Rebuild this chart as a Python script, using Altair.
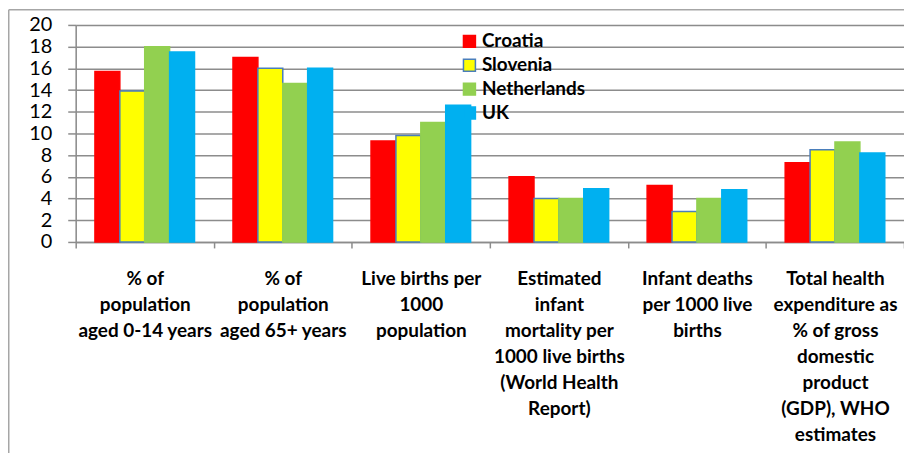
import altair as alt
import pandas as pd

categories = [
    "% of\npopulation\naged 0-14 years",
    "% of\npopulation\naged 65+ years",
    "Live births per\n1000\npopulation",
    "Estimated\ninfant\nmortality per\n1000 live births\n(World Health\nReport)",
    "Infant deaths\nper 1000 live\nbirths",
    "Total health\nexpenditure as\n% of gross\ndomestic\nproduct\n(GDP), WHO\nestimates",
]
countries = ["Croatia", "Slovenia", "Netherlands", "UK"]
croatia = [15.7, 17.0, 9.3, 6.0, 5.2, 7.3]
slovenia = [13.9, 16.0, 9.8, 4.0, 2.8, 8.5]
netherlands = [18.0, 14.6, 11.0, 4.0, 4.0, 9.2]
uk = [17.5, 16.0, 12.6, 4.9, 4.8, 8.2]

fill_colors = ["#ff0000", "#ffff00", "#92d050", "#00b0f0"]
stroke_colors = ["#ff0000", "#4a7ebb", "#92d050", "#00b0f0"]

rows = []
for country, vals in zip(countries, [croatia, slovenia, netherlands, uk]):
    for cat, v in zip(categories, vals):
        rows.append({"Category": cat, "Country": country, "Value": v})
df = pd.DataFrame(rows)

FONT = "Lato"
GRID = "#8c8c8c"
W, H = 832, 218

legend_opts = dict(
    title=None,
    orient="none",
    legendX=386,
    legendY=7,
    symbolType="square",
    symbolSize=144,
    symbolStrokeWidth=1.5,
    symbolOpacity=1,
    labelFont=FONT,
    labelFontSize=19,
    labelFontWeight="bold",
    labelColor="#000000",
    labelOffset=3,
    rowPadding=4,
    padding=0,
)

bars = alt.Chart(df).mark_bar(strokeWidth=1.5).encode(
    x=alt.X(
        "Category:N",
        sort=categories,
        title=None,
        scale=alt.Scale(paddingInner=0, paddingOuter=0),
        axis=alt.Axis(
            labelAngle=0,
            labelExpr="split(datum.label, '\\n')",
            labelFont=FONT,
            labelFontSize=19,
            labelFontWeight="bold",
            labelColor="#000000",
            labelLineHeight=26,
            labelPadding=22,
            labelBaseline="top",
            labelOverlap=False,
            labelBound=False,
            labelLimit=300,
            tickBand="extent",
            tickSize=6,
            tickColor=GRID,
            tickWidth=1.5,
            domainColor=GRID,
            domainWidth=1.5,
            grid=False,
        ),
    ),
    xOffset=alt.XOffset(
        "Country:N",
        sort=countries,
        scale=alt.Scale(paddingInner=0, paddingOuter=0.773),
    ),
    y=alt.Y(
        "Value:Q",
        title=None,
        scale=alt.Scale(domain=[0, 20], nice=False),
        axis=alt.Axis(
            values=list(range(0, 21, 2)),
            labelFont=FONT,
            labelFontSize=20,
            labelColor="#000000",
            labelPadding=16,
            tickSize=8,
            tickColor=GRID,
            tickWidth=1.5,
            domainColor=GRID,
            domainWidth=1.5,
            gridColor=GRID,
            gridWidth=1.5,
            gridOpacity=1,
        ),
    ),
    fill=alt.Fill(
        "Country:N",
        sort=countries,
        scale=alt.Scale(domain=countries, range=fill_colors),
        legend=alt.Legend(**legend_opts),
    ),
    stroke=alt.Stroke(
        "Country:N",
        sort=countries,
        scale=alt.Scale(domain=countries, range=stroke_colors),
        legend=alt.Legend(**legend_opts),
    ),
)

frame_df = pd.DataFrame({"k": [0]})
frame_left = alt.Chart(frame_df).mark_rule(color="#a6a6a6", strokeWidth=1.5).encode(
    x=alt.value(-67.25), y=alt.value(-15.25), y2=alt.value(430)
)
frame_top = alt.Chart(frame_df).mark_rule(color="#a6a6a6", strokeWidth=1.5).encode(
    x=alt.value(-67.25), x2=alt.value(W + 10), y=alt.value(-15.25)
)

chart = alt.layer(bars, frame_left, frame_top).properties(
    width=W,
    height=H,
    autosize=alt.AutoSizeParams(type="none"),
    padding={"left": 68, "top": 16, "right": 0, "bottom": 212},
).configure_view(stroke=None).configure(background="#ffffff")

chart.save("out.html", embed_options={"renderer": "svg", "actions": False})
